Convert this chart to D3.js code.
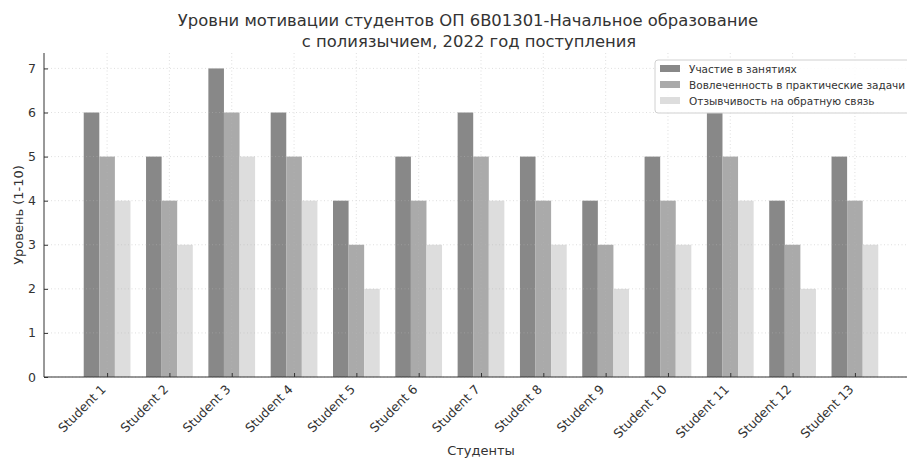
<!DOCTYPE html>
<html>
<head>
<meta charset="utf-8">
<script src="https://cdn.jsdelivr.net/npm/d3@7"></script>
<style>
  body { margin: 0; background: #fff; }
  text { font-family: "DejaVu Sans", sans-serif; fill: #333; }
</style>
</head>
<body>
<div id="container"></div>
<script>
var students = ["Student 1", "Student 2", "Student 3", "Student 4", "Student 5", "Student 6", "Student 7",
                "Student 8", "Student 9", "Student 10", "Student 11", "Student 12", "Student 13"];
var participation = [6, 5, 7, 6, 4, 5, 6, 5, 4, 5, 6, 4, 5];
var engagement = [5, 4, 6, 5, 3, 4, 5, 4, 3, 4, 5, 3, 4];
var feedback = [4, 3, 5, 4, 2, 3, 4, 3, 2, 3, 4, 2, 3];
var seriesNames = ["Участие в занятиях", "Вовлеченность в практические задачи", "Отзывчивость на обратную связь"];
var yTicks = [0, 1, 2, 3, 4, 5, 6, 7];

var colors = ["#888888", "#aaaaaa", "#dddddd"];
var series = [participation, engagement, feedback];

var createChart = function () {
    var width = 907, height = 458;
    var left = 44, right = 918, top = 53, bottom = 377;

    var svg = d3.select("#container")
        .append("svg")
        .attr("width", width)
        .attr("height", height);

    var x = d3.scaleLinear().domain([-1.0125, 13.0125]).range([left, right]);
    var y = d3.scaleLinear().domain([0, 7.35]).range([bottom, top]);
    var bw = x(0.25) - x(0);

    // bars
    series.forEach(function (vals, s) {
        svg.append("g").selectAll("rect")
            .data(vals)
            .enter().append("rect")
            .attr("x", function (d, i) { return x(i + (s - 1) * 0.25 - 0.125); })
            .attr("y", function (d) { return y(d); })
            .attr("width", bw)
            .attr("height", function (d) { return y(0) - y(d); })
            .style("fill", colors[s]);
    });

    // grid
    var grid = svg.append("g")
        .attr("stroke", "#b8b8b8")
        .attr("stroke-width", 0.8)
        .attr("stroke-dasharray", "1,2.5")
        .attr("opacity", 0.55);
    grid.selectAll(".gy").data(yTicks).enter().append("line")
        .attr("x1", left).attr("x2", right)
        .attr("y1", function (d) { return y(d); })
        .attr("y2", function (d) { return y(d); });
    grid.selectAll(".gx").data(students).enter().append("line")
        .attr("x1", function (d, i) { return x(i); })
        .attr("x2", function (d, i) { return x(i); })
        .attr("y1", top).attr("y2", bottom);

    // axes
    var yAxis = d3.axisLeft(y).tickValues(yTicks).tickSize(-4).tickPadding(8).tickFormat(d3.format("d"));
    var gy = svg.append("g").attr("transform", "translate(" + left + ",0)").call(yAxis);
    gy.select(".domain").attr("d", "M0," + top + "V" + bottom).attr("stroke", "#333");
    gy.selectAll("text").style("font-size", "12.5px");
    gy.selectAll(".tick line").attr("stroke", "#333");

    var xAxis = d3.axisBottom(x).tickValues(d3.range(students.length))
        .tickSize(-4).tickPadding(6)
        .tickFormat(function (d) { return students[d]; });
    var gx = svg.append("g").attr("transform", "translate(0," + bottom + ")").call(xAxis);
    gx.select(".domain").attr("d", "M" + left + ",0H" + right).attr("stroke", "#333");
    gx.selectAll(".tick line").attr("stroke", "#333");
    gx.selectAll("text")
        .style("font-size", "12.5px")
        .attr("text-anchor", "end")
        .attr("x", 0).attr("y", 0)
        .attr("dy", "0.35em")
        .attr("transform", "translate(-4,10) rotate(-45)");

    // axis labels
    svg.append("text")
        .attr("x", 481).attr("y", 455)
        .attr("text-anchor", "middle")
        .style("font-size", "13px")
        .text("Студенты");
    svg.append("text")
        .attr("transform", "translate(23,215) rotate(-90)")
        .attr("text-anchor", "middle")
        .style("font-size", "13px")
        .text("Уровень (1-10)");

    // title
    svg.append("text")
        .attr("x", 468).attr("y", 26)
        .attr("text-anchor", "middle")
        .style("font-size", "16.4px")
        .text("Уровни мотивации студентов ОП 6B01301-Начальное образование");
    svg.append("text")
        .attr("x", 469).attr("y", 47)
        .attr("text-anchor", "middle")
        .style("font-size", "16.4px")
        .text("с полиязычием, 2022 год поступления");

    // legend
    var lg = svg.append("g").attr("transform", "translate(655,60)");
    lg.append("rect")
        .attr("width", 270).attr("height", 53)
        .attr("rx", 3)
        .style("fill", "#fff")
        .style("fill-opacity", 0.85)
        .attr("stroke", "#d0d0d0");
    seriesNames.forEach(function (name, i) {
        lg.append("rect")
            .attr("x", 5).attr("y", 5 + i * 16)
            .attr("width", 20).attr("height", 7)
            .style("fill", colors[i]);
        lg.append("text")
            .attr("x", 34).attr("y", 12.5 + i * 16)
            .style("font-size", "10.5px")
            .text(name);
    });
};

window.onload = createChart;
</script>
</body>
</html>
